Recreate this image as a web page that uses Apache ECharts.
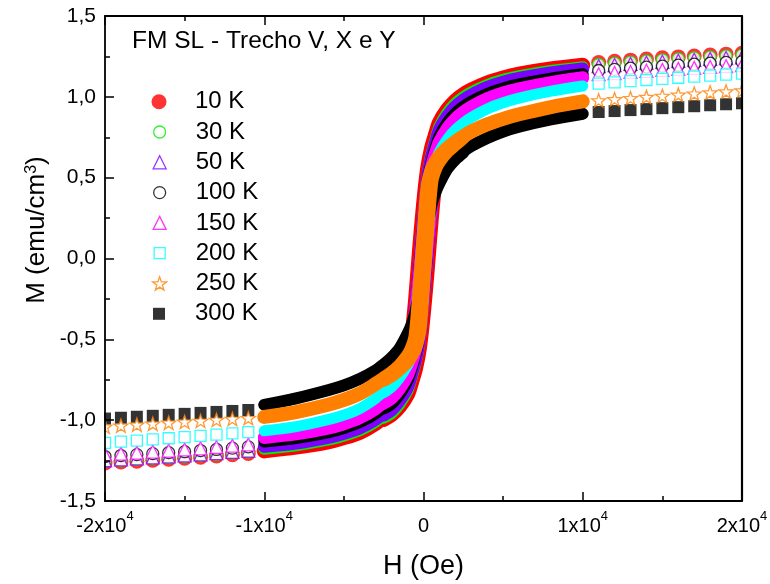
<!DOCTYPE html>
<html>
<head>
<meta charset="utf-8">
<script src="https://cdn.jsdelivr.net/npm/echarts@6/dist/echarts.min.js"></script>
<style>
  html, body { margin: 0; padding: 0; background: #ffffff; }
  #chart { width: 770px; height: 584px; }
</style>
</head>
<body>
<div id="chart"></div>
<script>
// Applied field H (Oe)
const hHighPos = [11000, 12000, 13000, 14000, 15000, 16000, 17000, 18000, 19000, 20000];
const hHighNeg = [-20000, -19000, -18000, -17000, -16000, -15000, -14000, -13000, -12000, -11000];
// descending branch, +10 kOe -> -10 kOe
const hDown = [10000, 8000, 6000, 5000, 4000, 3000, 2500, 2000, 1500, 1000, 750, 500, 250, 0,
  -250, -500, -750, -1000, -1500, -2000, -2500, -3000, -4000, -5000, -6000, -8000, -10000];
// ascending branch around the coercive field
const hUp = [-2500, -2000, -1500, -1000, -750, -500, -250, 0, 250, 500, 750, 1000, 1500, 2000, 2500];

const temperatures = ['10 K', '30 K', '50 K', '100 K', '150 K', '200 K', '250 K', '300 K'];

// Magnetization M (emu/cm3)
const m10Down = [1.195, 1.172, 1.14, 1.117, 1.086, 1.042, 1.013, 0.975, 0.92, 0.84, 0.765, 0.68, 0.55, 0.33,
  0.05, -0.26, -0.5, -0.64, -0.81, -0.91, -0.975, -1.02, -1.075, -1.108, -1.134, -1.167, -1.19];
const m10Up = [-0.995, -0.965, -0.915, -0.84, -0.765, -0.68, -0.55, -0.33, -0.05, 0.26, 0.5, 0.64, 0.81, 0.91, 0.995];
const m10HighPos = [1.212, 1.22, 1.227, 1.234, 1.241, 1.247, 1.253, 1.259, 1.264, 1.27];
const m10HighNeg = [-1.265, -1.259, -1.254, -1.248, -1.242, -1.236, -1.229, -1.222, -1.214, -1.206];

const m30Down = [1.183, 1.16, 1.128, 1.105, 1.073, 1.028, 0.998, 0.958, 0.9, 0.815, 0.735, 0.645, 0.51, 0.27,
  -0.02, -0.3, -0.52, -0.65, -0.81, -0.905, -0.965, -1.01, -1.062, -1.095, -1.121, -1.155, -1.177];
const m30Up = [-0.985, -0.955, -0.898, -0.815, -0.735, -0.645, -0.51, -0.27, 0.02, 0.3, 0.52, 0.65, 0.81, 0.905, 0.985];
const m30HighPos = [1.2, 1.208, 1.215, 1.222, 1.229, 1.235, 1.241, 1.247, 1.253, 1.258];
const m30HighNeg = [-1.256, -1.25, -1.244, -1.238, -1.232, -1.226, -1.219, -1.212, -1.204, -1.196];

const m50Down = [1.172, 1.148, 1.114, 1.09, 1.057, 1.01, 0.979, 0.938, 0.878, 0.795, 0.715, 0.625, 0.49, 0.24,
  -0.04, -0.31, -0.52, -0.64, -0.795, -0.89, -0.95, -0.993, -1.047, -1.081, -1.107, -1.142, -1.162];
const m50Up = [-0.968, -0.936, -0.876, -0.795, -0.715, -0.625, -0.49, -0.24, 0.04, 0.31, 0.52, 0.64, 0.795, 0.89, 0.968];
const m50HighPos = [1.19, 1.197, 1.204, 1.211, 1.217, 1.223, 1.229, 1.235, 1.24, 1.245];
const m50HighNeg = [-1.248, -1.242, -1.236, -1.23, -1.224, -1.218, -1.211, -1.204, -1.196, -1.188];

const m100Down = [1.14, 1.113, 1.077, 1.052, 1.018, 0.97, 0.938, 0.897, 0.838, 0.755, 0.68, 0.59, 0.46, 0.21,
  -0.06, -0.31, -0.5, -0.615, -0.76, -0.852, -0.913, -0.957, -1.012, -1.048, -1.075, -1.11, -1.132];
const m100Up = [-0.928, -0.897, -0.838, -0.755, -0.68, -0.59, -0.46, -0.21, 0.06, 0.31, 0.5, 0.615, 0.76, 0.852, 0.928];
const m100HighPos = [1.163, 1.17, 1.177, 1.184, 1.19, 1.196, 1.202, 1.208, 1.213, 1.218];
const m100HighNeg = [-1.225, -1.219, -1.213, -1.207, -1.201, -1.195, -1.188, -1.181, -1.173, -1.165];

const m150Down = [1.118, 1.088, 1.05, 1.024, 0.988, 0.938, 0.905, 0.863, 0.805, 0.72, 0.65, 0.565, 0.44, 0.18,
  -0.09, -0.32, -0.5, -0.6, -0.735, -0.825, -0.885, -0.928, -0.985, -1.022, -1.049, -1.085, -1.107];
const m150Up = [-0.895, -0.863, -0.805, -0.72, -0.65, -0.565, -0.44, -0.18, 0.09, 0.32, 0.5, 0.6, 0.735, 0.825, 0.895];
const m150HighPos = [1.14, 1.147, 1.154, 1.161, 1.167, 1.173, 1.179, 1.185, 1.19, 1.196];
const m150HighNeg = [-1.213, -1.207, -1.201, -1.194, -1.188, -1.181, -1.174, -1.166, -1.158, -1.15];

const m200Down = [1.067, 1.035, 0.992, 0.963, 0.925, 0.872, 0.838, 0.795, 0.738, 0.66, 0.6, 0.53, 0.42, 0.16,
  -0.12, -0.33, -0.48, -0.56, -0.68, -0.762, -0.82, -0.865, -0.928, -0.968, -0.997, -1.04, -1.066];
const m200Up = [-0.83, -0.795, -0.738, -0.66, -0.6, -0.53, -0.42, -0.16, 0.12, 0.33, 0.48, 0.56, 0.68, 0.762, 0.83];
const m200HighPos = [1.082, 1.09, 1.097, 1.104, 1.111, 1.118, 1.125, 1.131, 1.137, 1.143];
const m200HighNeg = [-1.14, -1.133, -1.126, -1.119, -1.112, -1.105, -1.097, -1.09, -1.082, -1.074];

const m250Down = [0.972, 0.937, 0.892, 0.864, 0.83, 0.785, 0.755, 0.722, 0.683, 0.632, 0.597, 0.545, 0.44, 0.13,
  -0.2, -0.48, -0.56, -0.605, -0.665, -0.708, -0.742, -0.775, -0.835, -0.875, -0.905, -0.95, -0.98];
const m250Up = [-0.75, -0.722, -0.683, -0.632, -0.597, -0.545, -0.44, -0.13, 0.2, 0.48, 0.56, 0.605, 0.665, 0.708, 0.75];
const m250HighPos = [0.978, 0.985, 0.992, 0.999, 1.006, 1.013, 1.02, 1.027, 1.033, 1.039];
const m250HighNeg = [-1.04, -1.034, -1.028, -1.022, -1.016, -1.01, -1.004, -0.998, -0.992, -0.987];

const m300Down = [0.895, 0.86, 0.815, 0.785, 0.745, 0.695, 0.662, 0.622, 0.57, 0.5, 0.455, 0.4, 0.3, 0.09,
  -0.18, -0.33, -0.41, -0.465, -0.555, -0.612, -0.655, -0.692, -0.745, -0.785, -0.815, -0.865, -0.905];
const m300Up = [-0.662, -0.622, -0.57, -0.5, -0.455, -0.4, -0.3, -0.09, 0.18, 0.33, 0.41, 0.465, 0.555, 0.612, 0.655];
const m300HighPos = [0.906, 0.912, 0.918, 0.924, 0.93, 0.936, 0.942, 0.948, 0.954, 0.96];
const m300HighNeg = [-0.99, -0.985, -0.979, -0.973, -0.967, -0.961, -0.955, -0.949, -0.943, -0.937];

// Axis tick values
const xTicks = [-20000, -10000, 0, 10000, 20000];
const yTicks = [-1.5, -1.0, -0.5, 0.0, 0.5, 1.0, 1.5];

const FONT = '"Liberation Sans", Arial, Helvetica, sans-serif';
const STAR = 'path://M50 0 L61.76 33.82 L97.55 34.55 L69.02 56.18 L79.39 90.45 L50 70 L20.61 90.45 L30.98 56.18 L2.45 34.55 L38.24 33.82 Z';

const curves = [
  { name: temperatures[0], color: '#ff0000', symbol: 'circle',   size: 15, filled: true,  down: m10Down,  up: m10Up,  hiPos: m10HighPos,  hiNeg: m10HighNeg },
  { name: temperatures[1], color: '#00ee00', symbol: 'circle',   size: 12, filled: false, down: m30Down,  up: m30Up,  hiPos: m30HighPos,  hiNeg: m30HighNeg },
  { name: temperatures[2], color: '#8000ff', symbol: 'triangle', size: 13, filled: false, down: m50Down,  up: m50Up,  hiPos: m50HighPos,  hiNeg: m50HighNeg },
  { name: temperatures[3], color: '#000000', symbol: 'circle',   size: 12, filled: false, down: m100Down, up: m100Up, hiPos: m100HighPos, hiNeg: m100HighNeg },
  { name: temperatures[4], color: '#ff00ff', symbol: 'triangle', size: 13, filled: false, down: m150Down, up: m150Up, hiPos: m150HighPos, hiNeg: m150HighNeg },
  { name: temperatures[5], color: '#00ffff', symbol: 'rect',     size: 11, filled: false, down: m200Down, up: m200Up, hiPos: m200HighPos, hiNeg: m200HighNeg },
  { name: temperatures[6], color: '#ff8000', symbol: STAR,       size: 14, filled: false, down: m250Down, up: m250Up, hiPos: m250HighPos, hiNeg: m250HighNeg },
  { name: temperatures[7], color: '#000000', symbol: 'rect',     size: 12, filled: true,  down: m300Down, up: m300Up, hiPos: m300HighPos, hiNeg: m300HighNeg }
];
// stacking order of the curves (last one on top)
const drawOrder = [0, 1, 2, 3, 4, 5, 7, 6];

function markerStyle(c) {
  return c.filled
    ? { color: c.color, borderWidth: 0 }
    : { color: '#ffffff', borderColor: c.color, borderWidth: 1.3 };
}

const series = [];
drawOrder.forEach(function (k) {
  const c = curves[k];
  const band = {
    type: 'line', silent: true, showSymbol: false, symbol: 'none', smooth: 0.3,
    lineStyle: { color: c.color, width: c.size, cap: 'round', join: 'round' },
    z: 2
  };
  series.push(Object.assign({}, band, { name: c.name + ' desc', data: hDown.map((h, i) => [h, c.down[i]]) }));
  series.push(Object.assign({}, band, { name: c.name + ' asc', data: hUp.map((h, i) => [h, c.up[i]]) }));
  series.push({
    type: 'scatter', name: c.name, silent: true, clip: false,
    symbol: c.symbol, symbolSize: c.size, symbolKeepAspect: true,
    itemStyle: markerStyle(c),
    data: hHighNeg.map((h, i) => [h, c.hiNeg[i]]).concat(hHighPos.map((h, i) => [h, c.hiPos[i]])),
    z: 2
  });
});

// one legend block per temperature so every symbol keeps its own size
const legends = curves.map(function (c, i) {
  const iconLeft = 159 - c.size / 2;
  return {
    orient: 'vertical', left: iconLeft, top: 89.7 + i * 30.3, padding: 0,
    itemWidth: c.size, itemHeight: c.size, itemGap: 0, selectedMode: false,
    textStyle: { fontFamily: FONT, fontSize: 24, color: '#000', lineHeight: 24,
      padding: [0, 0, 0, 195 - (iconLeft + c.size) - 5] },
    data: [{ name: c.name, icon: c.symbol, itemStyle: markerStyle(c) }]
  };
});

const axisLine = { show: true, onZero: false, lineStyle: { color: '#000', width: 1.8 } };
const tickStyle = { color: '#000', width: 1.5 };

const option = {
  animation: false,
  backgroundColor: '#ffffff',
  title: {
    text: 'FM SL - Trecho V, X e Y', left: 132, top: 29, padding: 0,
    textStyle: { fontFamily: FONT, fontSize: 24.5, fontWeight: 'normal', color: '#000' }
  },
  legend: legends,
  grid: { left: 105, right: 28, top: 16, bottom: 83, containLabel: false, outerBoundsMode: 'none' },
  xAxis: [{
    type: 'value', position: 'bottom', min: xTicks[0], max: xTicks[xTicks.length - 1], interval: 10000,
    z: 3, axisLine: axisLine, splitLine: { show: false },
    axisTick: { show: true, inside: true, length: 9, lineStyle: tickStyle },
    minorTick: { show: true, splitNumber: 2, length: 5, lineStyle: tickStyle },
    axisLabel: {
      margin: 9, showMinLabel: true, showMaxLabel: true, color: '#000',
      formatter: function (v) { return v === 0 ? '{b|0}' : '{b|' + (v / 10000) + 'x10}{s|4}'; },
      rich: {
        b: { fontFamily: FONT, fontSize: 20, color: '#000', lineHeight: 26, verticalAlign: 'bottom' },
        s: { fontFamily: FONT, fontSize: 13, color: '#000', lineHeight: 14, verticalAlign: 'top' }
      }
    },
    name: 'H (Oe)', nameLocation: 'middle', nameGap: 52,
    nameTextStyle: { fontFamily: FONT, fontSize: 27, color: '#000' }
  }, {
    type: 'value', position: 'top', min: xTicks[0], max: xTicks[xTicks.length - 1], interval: 10000,
    z: 3, axisLine: axisLine, splitLine: { show: false }, axisLabel: { show: false },
    axisTick: { show: true, inside: true, length: 9, lineStyle: tickStyle },
    minorTick: { show: true, splitNumber: 2, length: 5, lineStyle: tickStyle }
  }],
  yAxis: [{
    type: 'value', position: 'left', min: yTicks[0], max: yTicks[yTicks.length - 1], interval: 0.5,
    z: 3, axisLine: axisLine, splitLine: { show: false },
    axisTick: { show: true, inside: true, length: 9, lineStyle: tickStyle },
    minorTick: { show: true, splitNumber: 2, length: 5, lineStyle: tickStyle },
    axisLabel: {
      margin: 9, color: '#000', fontFamily: FONT, fontSize: 21,
      formatter: function (v) { return v.toFixed(1).replace('.', ','); }
    }
  }, {
    type: 'value', position: 'right', min: yTicks[0], max: yTicks[yTicks.length - 1],
    z: 3, axisLine: { show: true, onZero: false, lineStyle: { color: '#000', width: 2.2 } },
    axisTick: { show: false }, axisLabel: { show: false }, splitLine: { show: false }
  }],
  graphic: [
    { type: 'rect', z: 2.5, silent: true, shape: { x: 743, y: 0, width: 27, height: 506 }, style: { fill: '#ffffff' } },
    { type: 'rect', z: 2.5, silent: true, shape: { x: 97, y: 16, width: 7, height: 486 }, style: { fill: '#ffffff' } },
    // vertical axis title
    {
      type: 'text', z: 4, silent: true, x: 37, y: 230, rotation: Math.PI / 2,
      style: {
        text: 'M (emu/cm{s|3})', fontFamily: FONT, fontSize: 26, fill: '#000',
        align: 'center', verticalAlign: 'middle',
        rich: { s: { fontFamily: FONT, fontSize: 16, fill: '#000', lineHeight: 16, verticalAlign: 'top' } }
      }
    }
  ],
  series: series
};

const chart = echarts.init(document.getElementById('chart'), null, { renderer: 'canvas' });
chart.setOption(option);
</script>
</body>
</html>
